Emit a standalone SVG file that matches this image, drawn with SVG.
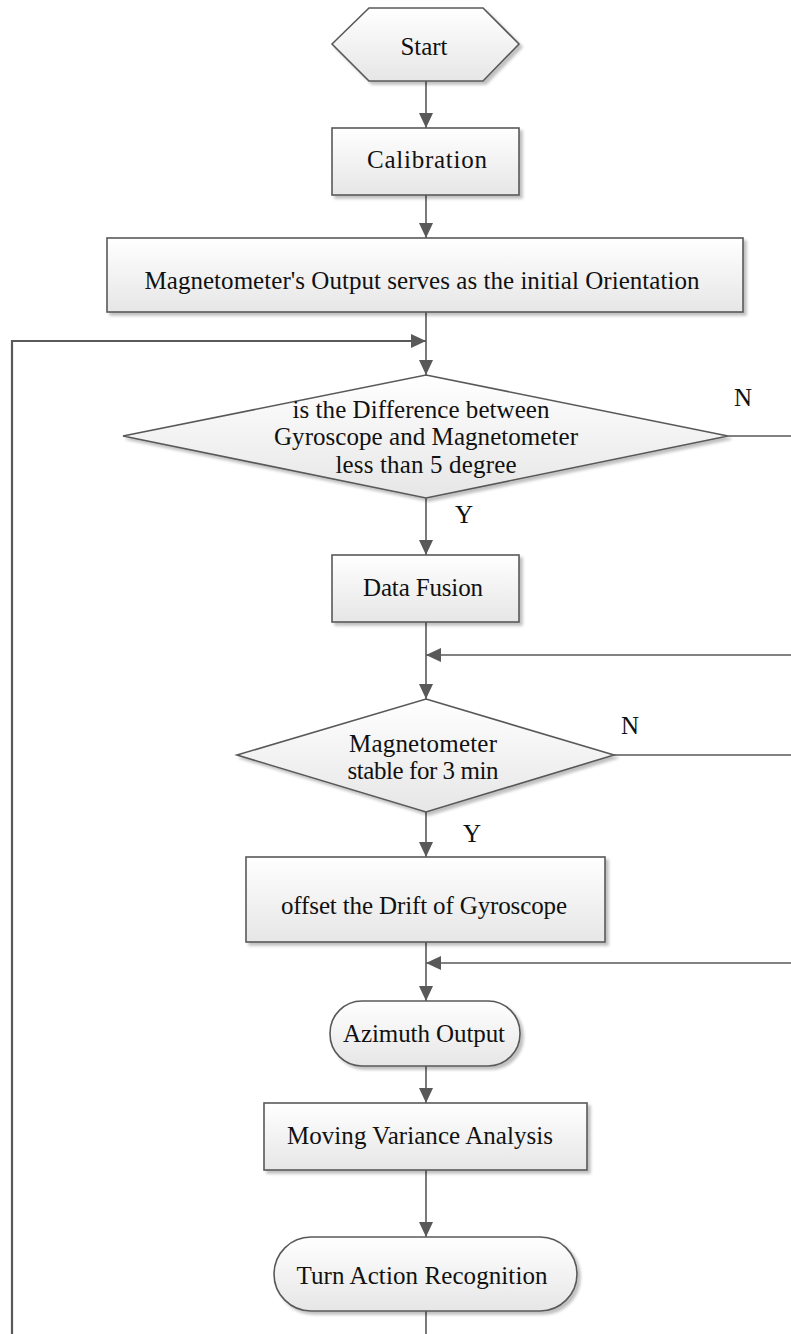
<svg xmlns="http://www.w3.org/2000/svg" width="791" height="1334" viewBox="0 0 791 1334">
  <defs>
    <linearGradient id="shade" x1="0" y1="0" x2="0" y2="1">
      <stop offset="0" stop-color="#ffffff"/>
      <stop offset="1" stop-color="#e6e6e6"/>
    </linearGradient>
    <filter id="drop" x="-10%" y="-10%" width="130%" height="140%">
      <feGaussianBlur in="SourceAlpha" stdDeviation="1.5"/>
      <feOffset dx="3" dy="3" result="b"/>
      <feComponentTransfer><feFuncA type="linear" slope="0.25"/></feComponentTransfer>
      <feMerge><feMergeNode/><feMergeNode in="SourceGraphic"/></feMerge>
    </filter>
    <marker id="arrow" viewBox="0 0 15 14" refX="15" refY="7" markerWidth="15" markerHeight="14" markerUnits="userSpaceOnUse" orient="auto">
      <path d="M0,0 L15,7 L0,14 Z" fill="#595959"/>
    </marker>
  </defs>
  <style>
    .shape { fill: url(#shade); stroke: #595959; stroke-width: 1.6; filter: url(#drop); }
    .label { font-family: "Liberation Serif", "Times New Roman", serif; font-size: 25px; fill: #111; text-anchor: middle; }
    .edge { fill: none; stroke: #595959; stroke-width: 1.6; }
    .loop { fill: none; stroke: #595959; stroke-width: 2.2; }
  </style>
  <rect width="791" height="1334" fill="#ffffff"/>

  <!-- connectors -->
  <g id="connectors">
    <line class="edge" x1="426" y1="81" x2="426" y2="128" marker-end="url(#arrow)"/>
    <line class="edge" x1="426" y1="195" x2="426" y2="238" marker-end="url(#arrow)"/>
    <line class="edge" x1="426" y1="312" x2="426" y2="375" marker-end="url(#arrow)"/>
    <polyline class="loop" points="12,1334 12,341 426,341" marker-end="url(#arrow)"/>
    <line class="edge" x1="426" y1="498" x2="426" y2="555" marker-end="url(#arrow)"/>
    <line class="edge" x1="728" y1="436" x2="791" y2="436"/>
    <line class="edge" x1="426" y1="622" x2="426" y2="699" marker-end="url(#arrow)"/>
    <line class="edge" x1="791" y1="655" x2="426" y2="655" marker-end="url(#arrow)"/>
    <line class="edge" x1="614" y1="755" x2="791" y2="755"/>
    <line class="edge" x1="426" y1="812" x2="426" y2="857" marker-end="url(#arrow)"/>
    <line class="edge" x1="426" y1="942" x2="426" y2="1001" marker-end="url(#arrow)"/>
    <line class="edge" x1="791" y1="963" x2="426" y2="963" marker-end="url(#arrow)"/>
    <line class="edge" x1="426" y1="1066" x2="426" y2="1103" marker-end="url(#arrow)"/>
    <line class="edge" x1="426" y1="1170" x2="426" y2="1237" marker-end="url(#arrow)"/>
    <line class="edge" x1="426" y1="1311" x2="426" y2="1334"/>
    <text class="label" x="743" y="406">N</text>
    <text class="label" x="464" y="523">Y</text>
    <text class="label" x="630" y="734">N</text>
    <text class="label" x="472" y="842">Y</text>
  </g>

  <g id="start">
    <polygon class="shape" points="332,44 369,8 483,8 519,44 483,81 369,81"/>
    <text class="label" x="424" y="55" textLength="47">Start</text>
  </g>

  <g id="calibration">
    <rect class="shape" x="332" y="128" width="187" height="67"/>
    <text class="label" x="427" y="168" textLength="120">Calibration</text>
  </g>

  <g id="initial-orientation">
    <rect class="shape" x="107" y="238" width="636" height="74"/>
    <text class="label" x="422" y="289" textLength="555">Magnetometer's Output serves as the initial Orientation</text>
  </g>

  <g id="difference-check">
    <polygon class="shape" points="426,375 728,436 426,498 123,436"/>
    <text class="label" x="421" y="418" textLength="257">is the Difference between</text>
    <text class="label" x="426" y="445" textLength="304">Gyroscope and Magnetometer</text>
    <text class="label" x="426" y="473" textLength="181">less than 5 degree</text>
  </g>

  <g id="data-fusion">
    <rect class="shape" x="332" y="555" width="187" height="67"/>
    <text class="label" x="423" y="596" textLength="120">Data Fusion</text>
  </g>

  <g id="stability-check">
    <polygon class="shape" points="426,699 614,755 426,812 237,755"/>
    <text class="label" x="423" y="752" textLength="148">Magnetometer</text>
    <text class="label" x="423" y="779" textLength="151">stable for 3 min</text>
  </g>

  <g id="drift-offset">
    <rect class="shape" x="246" y="857" width="359" height="85"/>
    <text class="label" x="424" y="914" textLength="286">offset the Drift of Gyroscope</text>
  </g>

  <g id="azimuth-output">
    <rect class="shape" x="330" y="1001" width="190" height="65" rx="32" ry="32"/>
    <text class="label" x="424" y="1042" textLength="162">Azimuth Output</text>
  </g>

  <g id="moving-variance">
    <rect class="shape" x="264" y="1103" width="323" height="67"/>
    <text class="label" x="420" y="1144" textLength="266">Moving Variance Analysis</text>
  </g>

  <g id="turn-recognition">
    <rect class="shape" x="274" y="1237" width="303" height="74" rx="37" ry="37"/>
    <text class="label" x="422" y="1284" textLength="251">Turn Action Recognition</text>
  </g>
</svg>
